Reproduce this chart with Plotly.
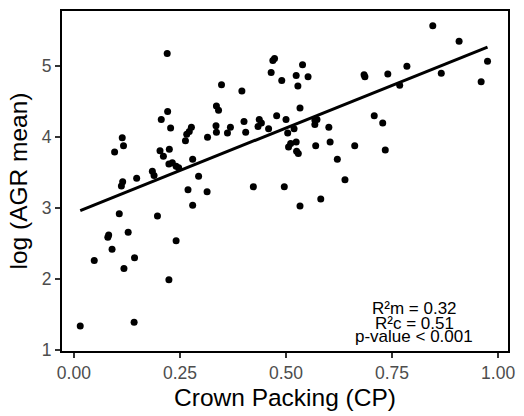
import plotly.graph_objects as go

# Crown Packing (CP) values
cp = [0.015, 0.142, 0.048, 0.118, 0.143, 0.090, 0.080, 0.082, 0.128, 0.224,
      0.241, 0.107, 0.197, 0.115, 0.112, 0.148, 0.185, 0.189, 0.280, 0.269,
      0.314, 0.294, 0.423, 0.496, 0.533, 0.582, 0.639, 0.621, 0.734, 0.662,
      0.604, 0.570, 0.524, 0.511, 0.506, 0.525, 0.529, 0.601, 0.568, 0.573,
      0.568, 0.519, 0.504, 0.500, 0.478, 0.533, 0.708, 0.728, 0.528, 0.490,
      0.524, 0.552, 0.539, 0.473, 0.469, 0.465, 0.684, 0.686, 0.740, 0.785,
      0.768, 0.846, 0.908, 0.866, 0.960, 0.975, 0.220, 0.348, 0.396, 0.336,
      0.341, 0.221, 0.206, 0.228, 0.277, 0.272, 0.266, 0.263, 0.335, 0.336,
      0.369, 0.362, 0.401, 0.405, 0.437, 0.434, 0.442, 0.459, 0.315, 0.114,
      0.117, 0.096, 0.203, 0.211, 0.225, 0.224, 0.232, 0.241, 0.280, 0.247]

# log (AGR mean) values
agr = [1.34, 1.39, 2.26, 2.15, 2.30, 2.42, 2.59, 2.62, 2.66, 1.99,
       2.54, 2.92, 2.89, 3.37, 3.31, 3.42, 3.52, 3.46, 3.04, 3.26,
       3.23, 3.45, 3.30, 3.30, 3.03, 3.13, 3.40, 3.69, 3.82, 3.88,
       3.93, 3.88, 3.93, 3.91, 3.86, 3.80, 3.77, 4.14, 4.24, 4.25,
       4.18, 4.12, 4.06, 4.25, 4.30, 4.41, 4.30, 4.20, 4.72, 4.80,
       4.87, 4.85, 5.02, 5.11, 5.08, 4.91, 4.88, 4.85, 4.89, 5.00,
       4.73, 5.57, 5.35, 4.90, 4.78, 5.07, 5.18, 4.74, 4.65, 4.44,
       4.38, 4.36, 4.25, 4.13, 4.14, 4.08, 4.04, 3.95, 4.16, 4.07,
       4.14, 4.06, 4.22, 4.07, 4.25, 4.15, 4.20, 4.12, 4.00, 3.99,
       3.88, 3.79, 3.81, 3.73, 3.83, 3.62, 3.64, 3.59, 3.69, 3.57]

# fitted model (fixed effects)
fit_intercept = 2.93
fit_slope = 2.40

stats_lines = ["R²m = 0.32", "R²c = 0.51", "p-value < 0.001"]
stats_y = [1.585, 1.38, 1.19]

x_ticks = [0.0, 0.25, 0.5, 0.75, 1.0]
x_ticklabels = ["0.00", "0.25", "0.50", "0.75", "1.00"]
y_ticks = [1, 2, 3, 4, 5]

xmin, xmax = min(cp), max(cp)
line_x = [xmin, xmax]
line_y = [fit_intercept + fit_slope * v for v in line_x]

fig = go.Figure()
fig.add_trace(go.Scatter(x=cp, y=agr, mode="markers",
                         marker=dict(color="black", size=7),
                         showlegend=False, hoverinfo="skip"))
fig.add_trace(go.Scatter(x=line_x, y=line_y, mode="lines",
                         line=dict(color="black", width=3),
                         showlegend=False, hoverinfo="skip"))

font_fam = "Liberation Sans, Arial"
for txt, yy in zip(stats_lines, stats_y):
    fig.add_annotation(x=0.802, y=yy, xref="x", yref="y", text=txt,
                       showarrow=False, xanchor="center", yanchor="middle",
                       font=dict(family=font_fam, size=17, color="black"))

fig.update_layout(
    width=524, height=416,
    margin=dict(l=62, r=11, t=9, b=62),
    plot_bgcolor="white", paper_bgcolor="white",
    font=dict(family=font_fam),
    xaxis=dict(range=[-0.028, 1.0233], tickvals=x_ticks, ticktext=x_ticklabels,
               showgrid=False, zeroline=False, showline=True, linecolor="black",
               linewidth=2, mirror=True, ticks="outside", ticklen=5, tickwidth=1.5,
               tickcolor="#333333",
               tickfont=dict(size=17.5, color="#4D4D4D", family=font_fam),
               title=dict(text="Crown Packing (CP)", standoff=7,
                          font=dict(size=24.5, color="black", family=font_fam))),
    yaxis=dict(range=[0.986, 5.778], tickvals=y_ticks,
               showgrid=False, zeroline=False, showline=True, linecolor="black",
               linewidth=2, mirror=True, ticks="outside", ticklen=5, tickwidth=1.5,
               tickcolor="#333333",
               tickfont=dict(size=17.5, color="#4D4D4D", family=font_fam),
               title=dict(text="log (AGR mean)", standoff=7,
                          font=dict(size=24.5, color="black", family=font_fam))),
)

fig.write_html("out.html")
